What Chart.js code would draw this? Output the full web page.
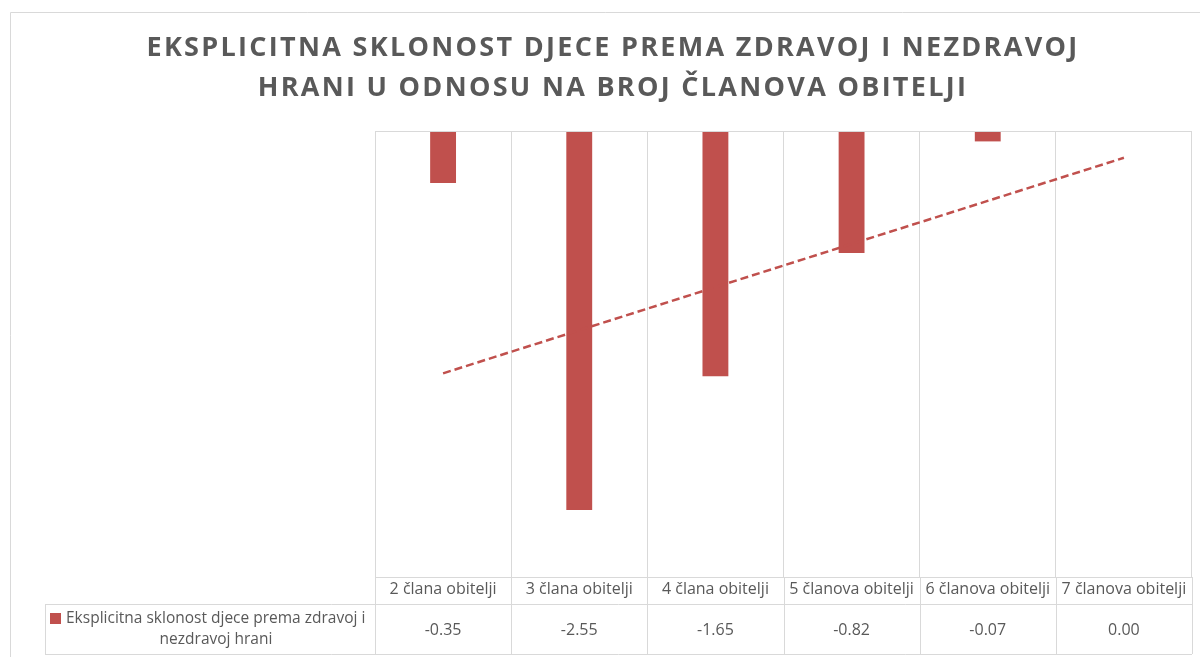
<!DOCTYPE html>
<html>
<head>
<meta charset="utf-8">
<script src="https://cdn.jsdelivr.net/npm/chart.js@4.4.0/dist/chart.umd.min.js"></script>
<style>
  html, body { margin: 0; padding: 0; background: #fff; }
  #wrap { width: 1200px; height: 657px; }
</style>
</head>
<body>
<div id="wrap"><canvas id="myChart"></canvas></div>
<script>
const titleLines = ['EKSPLICITNA SKLONOST DJECE PREMA ZDRAVOJ I NEZDRAVOJ', 'HRANI U ODNOSU NA BROJ ČLANOVA OBITELJI']
const categories = ['2 člana obitelji', '3 člana obitelji', '4 člana obitelji', '5 članova obitelji', '6 članova obitelji', '7 članova obitelji']
const seriesName = 'Eksplicitna sklonost djece prema zdravoj i nezdravoj hrani'
const legendLines = ['Eksplicitna sklonost djece prema zdravoj i', 'nezdravoj hrani']
const values = [-0.35, -2.55, -1.65, -0.82, -0.07, 0.00]
// linear trendline ends
const trend = [-1.63, null, null, null, null, -0.18]

const red = '#c0504d'
const grey = '#595959'
const lineCol = '#d9d9d9'

// draws the frame, title and the data table under the axis
const tablePlugin = {
    id: 'tablePlugin',
    afterDraw(chart) {
        const ctx = chart.ctx
        const area = chart.chartArea
        const x = chart.scales.x
        const colW = (x.right - x.left) / categories.length
        const rowTop = 604
        const rowBottom = 654
        const tableLeft = 45

        ctx.save()
        ctx.strokeStyle = lineCol
        ctx.lineWidth = 1

        // outer frame
        ctx.beginPath()
        ctx.moveTo(10.5, 700)
        ctx.lineTo(10.5, 12.5)
        ctx.lineTo(1200, 12.5)
        ctx.stroke()

        // plot top + table lines
        ctx.beginPath()
        ctx.moveTo(area.left, area.top + 0.5)
        ctx.lineTo(area.right, area.top + 0.5)
        ctx.moveTo(tableLeft, rowTop + 0.5)
        ctx.lineTo(area.right, rowTop + 0.5)
        ctx.moveTo(tableLeft, rowBottom + 0.5)
        ctx.lineTo(area.right, rowBottom + 0.5)
        ctx.moveTo(tableLeft + 0.5, rowTop)
        ctx.lineTo(tableLeft + 0.5, rowBottom)
        for (let i = 0; i <= categories.length; i++) {
            const bx = Math.round(x.left + i * colW) + 0.5
            ctx.moveTo(bx, area.bottom)
            ctx.lineTo(bx, rowBottom)
        }
        ctx.stroke()

        // values row
        ctx.fillStyle = grey
        ctx.font = '16px "Open Sans"'
        ctx.textAlign = 'center'
        ctx.textBaseline = 'middle'
        values.forEach((v, i) => {
            ctx.fillText(v.toFixed(2), x.getPixelForValue(i), 630)
        })

        // legend key in table
        ctx.fillStyle = red
        ctx.fillRect(50, 613, 11, 11)
        ctx.fillStyle = grey
        ctx.font = '15.5px "Open Sans"'
        ctx.textAlign = 'left'
        ctx.fillText(legendLines[0], 66, 619)
        ctx.textAlign = 'center'
        ctx.fillText(legendLines[1], 216, 640)

        // title
        ctx.font = 'bold 27px "Open Sans"'
        ctx.letterSpacing = '2.3px'
        ctx.fillStyle = grey
        ctx.textAlign = 'center'
        ctx.fillText(titleLines[0], 613, 48)
        ctx.fillText(titleLines[1], 613, 88)
        ctx.restore()
    }
}

function loaded() {
    const ctx = document.getElementById('myChart')

    new Chart(ctx, {
        data: {
            labels: categories,
            datasets: [{
                type: 'line',
                label: 'Linear trend',
                data: trend,
                spanGaps: true,
                borderColor: red,
                borderWidth: 2.5,
                borderDash: [8, 4],
                pointRadius: 0,
                fill: false,
                order: 0
            }, {
                type: 'bar',
                label: seriesName,
                data: values,
                backgroundColor: red,
                borderWidth: 0,
                barPercentage: 0.19,
                categoryPercentage: 1,
                order: 1
            }]
        },
        options: {
            responsive: true,
            maintainAspectRatio: false,
            animation: false,
            layout: {
                padding: { left: 375, right: 8, top: 131, bottom: 0 }
            },
            plugins: {
                legend: { display: false },
                title: { display: false },
                tooltip: { enabled: false }
            },
            scales: {
                x: {
                    position: 'bottom',
                    offset: true,
                    grid: { color: lineCol, offset: true, drawTicks: false },
                    border: { color: lineCol },
                    ticks: {
                        color: grey,
                        font: { family: 'Open Sans', size: 16 },
                        padding: 3,
                        maxRotation: 0,
                        autoSkip: false
                    },
                    afterFit(scale) {
                        scale.height = 80
                    }
                },
                y: {
                    display: false,
                    min: -3,
                    max: 0
                }
            }
        },
        plugins: [tablePlugin]
    })
}

document.addEventListener('DOMContentLoaded', loaded)
</script>
</body>
</html>
